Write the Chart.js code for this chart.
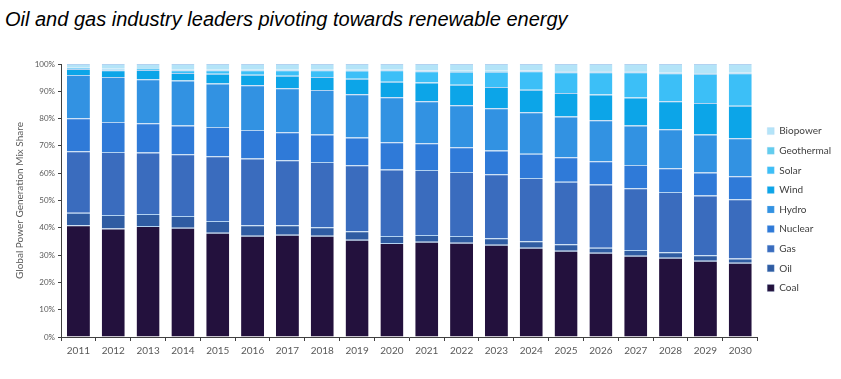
<!DOCTYPE html>
<html>
<head>
<meta charset="utf-8">
<script src="https://cdn.jsdelivr.net/npm/chart.js@4"></script>
<style>
  html, body { margin: 0; padding: 0; background: #fff; }
  #wrap { position: relative; width: 841px; height: 379px; }
  #title { position: absolute; left: 5px; top: 8px; font-family: "Liberation Sans", Arial, sans-serif; font-style: italic; font-size: 20px; color: #000; white-space: nowrap; }
  canvas { position: absolute; left: 0; top: 0; }
</style>
</head>
<body>
<div id="wrap">
  <div id="title">Oil and gas industry leaders pivoting towards renewable energy</div>
  <canvas id="c" width="841" height="379"></canvas>
</div>
<script>
const years = ["2011","2012","2013","2014","2015","2016","2017","2018","2019","2020","2021","2022","2023","2024","2025","2026","2027","2028","2029","2030"];
const coal       = [40.9,39.7,40.7,40.0,38.2,37.1,37.5,37.1,35.6,34.4,34.9,34.5,33.8,32.7,31.6,30.9,29.8,29.0,27.9,27.2];
const oil        = [4.6,5.0,4.4,4.3,4.3,3.8,3.4,3.1,3.1,2.6,2.5,2.5,2.4,2.4,2.4,1.8,2.1,2.0,2.0,1.6];
const gas        = [22.5,23.1,22.5,22.6,23.7,24.5,23.8,23.9,24.2,24.4,23.8,23.4,23.4,23.1,22.9,23.2,22.6,22.1,21.9,21.7];
const nuclear    = [12.1,11.0,10.7,10.6,10.7,10.4,10.3,10.1,10.2,9.9,9.8,9.1,8.7,8.9,8.9,8.5,8.5,8.7,8.5,8.4];
const hydro      = [15.9,16.4,16.1,16.5,16.0,16.4,16.1,16.3,15.8,16.5,15.4,15.4,15.5,15.2,15.0,15.0,14.5,14.3,13.9,13.9];
const wind       = [2.2,2.5,3.4,2.7,3.5,3.9,4.6,4.7,5.7,5.7,6.8,7.5,7.8,8.3,8.6,9.4,10.2,10.3,11.5,11.9];
const solar      = [0.3,0.4,0.5,1.0,1.3,1.6,2.0,2.5,3.0,4.2,4.1,4.8,5.6,6.7,7.6,8.2,9.3,10.2,10.7,11.9];
const geothermal = [0.2,0.2,0.2,0.3,0.3,0.3,0.3,0.3,0.3,0.3,0.3,0.3,0.3,0.3,0.3,0.3,0.3,0.3,0.3,0.3];
const biopower   = [1.3,1.7,1.5,2.0,2.0,2.0,2.0,2.0,2.1,2.0,2.4,2.5,2.5,2.4,2.7,2.7,2.7,3.1,3.3,3.1];
const yTicks = [0,10,20,30,40,50,60,70,80,90,100];

const series = [
  ["Coal", coal, "#23113D"],
  ["Oil", oil, "#2F5CA2"],
  ["Gas", gas, "#3A6CBE"],
  ["Nuclear", nuclear, "#2F7AD8"],
  ["Hydro", hydro, "#3292E2"],
  ["Wind", wind, "#0CA5E8"],
  ["Solar", solar, "#3CBFF7"],
  ["Geothermal", geothermal, "#62CDEE"],
  ["Biopower", biopower, "#B4E4F8"]
];

const datasets = series.map(([label, data, color]) => ({
  label, data,
  backgroundColor: color,
  borderColor: "rgba(170,205,240,0.9)",
  borderWidth: {top: 1, left: 0, right: 0, bottom: 0},
  borderSkipped: false,
  categoryPercentage: 1.0,
  barPercentage: 0.66
}));

new Chart(document.getElementById("c"), {
  type: "bar",
  data: { labels: years, datasets },
  options: {
    responsive: false,
    devicePixelRatio: 1,
    animation: false,
    layout: { padding: { top: 64, left: 14, right: 0, bottom: 24 } },
    plugins: {
      title: { display: false },
      tooltip: { enabled: false },
      legend: {
        position: "right",
        align: "center",
        reverse: true,
        labels: {
          boxWidth: 7, boxHeight: 7, padding: 9.6,
          color: "#404040",
          font: { family: "Lato, 'Open Sans', sans-serif", size: 10 }
        }
      }
    },
    scales: {
      x: {
        stacked: true,
        afterFit: s => { s.height = 18; },
        border: { color: "#404040", width: 1 },
        grid: { display: true, drawOnChartArea: false, drawTicks: true, tickLength: 4, offset: true, color: "#404040" },
        ticks: { color: "#595959", font: { family: "Lato, 'Open Sans', sans-serif", size: 10 }, padding: 4, maxRotation: 0 }
      },
      y: {
        stacked: true,
        min: 0, max: 100,
        afterFit: s => { s.width = 47; },
        afterBuildTicks: s => { s.ticks = yTicks.map(v => ({ value: v })); },
        border: { color: "#404040", width: 1 },
        grid: { display: true, drawOnChartArea: false, drawTicks: true, tickLength: 3, color: "#404040" },
        ticks: { color: "#595959", font: { family: "Lato, 'Open Sans', sans-serif", size: 8 }, padding: 3, callback: v => v + "%" },
        title: { display: true, text: "Global Power Generation Mix Share", color: "#595959", font: { family: "Lato, 'Open Sans', sans-serif", size: 10 }, padding: 0 }
      }
    }
  }
});
</script>
</body>
</html>
